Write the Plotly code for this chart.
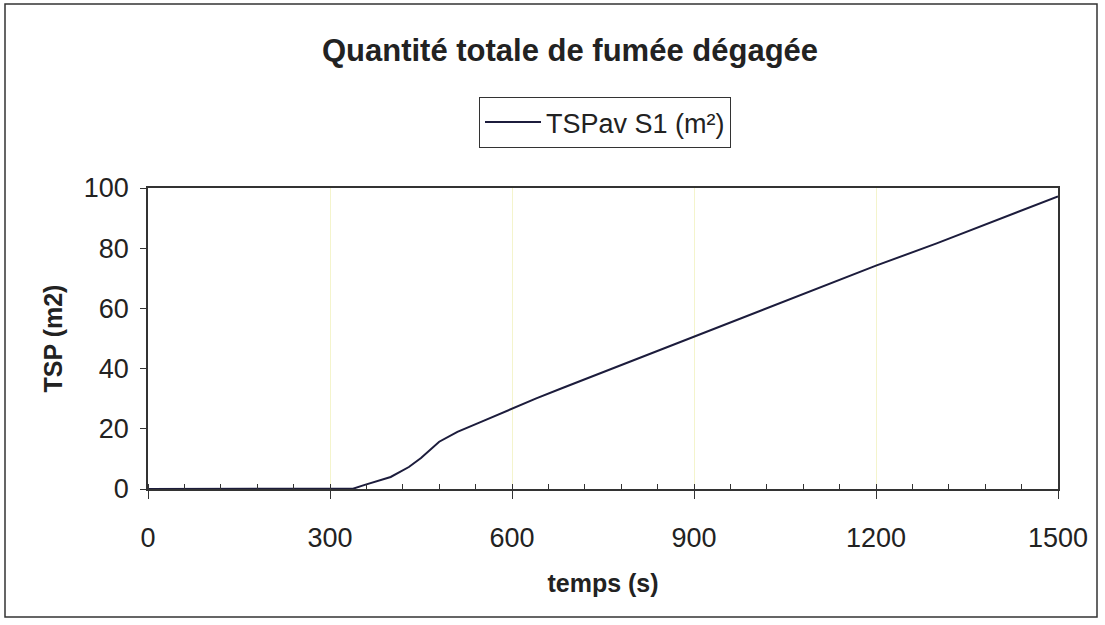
import plotly.graph_objects as go

# Data
temps = [0, 60, 120, 180, 240, 300, 320, 338, 356, 380, 400, 430, 450, 480,
         510, 550, 600, 640, 680, 750, 800, 900, 1000, 1100, 1200, 1300, 1400, 1500]
tsp = [0, 0, 0, 0, 0, 0, 0, 0.1, 1.3, 2.8, 4.0, 7.3, 10.3, 15.7,
       19.0, 22.4, 26.8, 30.1, 33.3, 38.8, 42.7, 50.6, 58.3, 66.2, 74.2, 81.6, 89.4, 97.2]
series_name = "TSPav S1 (m²)"
x_ticks = [0, 300, 600, 900, 1200, 1500]
y_ticks = [0, 20, 40, 60, 80, 100]

FONT = "Liberation Sans, Arial, sans-serif"
TXT = "#222222"

L, R, T, B = 148, 1058, 188, 489
PW, PH = R - L, B - T

fig = go.Figure()
fig.add_trace(go.Scatter(x=temps, y=tsp, mode="lines", name=series_name,
                         line=dict(color="#1c1c3c", width=2)))

fig.update_layout(
    width=1105, height=625,
    paper_bgcolor="white", plot_bgcolor="white",
    margin=dict(l=L, r=1105 - R, t=T, b=625 - B),
    font=dict(family=FONT, color=TXT),
    title=dict(text="<b>Quantité totale de fumée dégagée</b>",
               x=570 / 1105, xanchor="center", y=1 - 50 / 625, yanchor="middle",
               font=dict(size=31, color=TXT)),
    showlegend=True,
    legend=dict(x=(605 - L) / PW, xanchor="center", y=(B - 97) / PH, yanchor="top",
                bordercolor="#333333", borderwidth=1, bgcolor="white",
                font=dict(size=27, color=TXT), itemwidth=56),
    xaxis=dict(range=[0, 1500], tickvals=x_ticks, ticks="outside", ticklen=8,
               tickcolor="#333", tickwidth=1,
               showline=True, linecolor="#333", linewidth=1.5, mirror=True,
               showgrid=True, gridcolor="#f4f4cc", gridwidth=1,
               zeroline=False, tickfont=dict(size=27, color=TXT),
               ticklabelstandoff=16,
               minor=dict(dtick=60, tick0=0, ticks="inside", ticklen=5, tickcolor="#333", showgrid=False),
               title=dict(text="<b>temps (s)</b>", font=dict(size=25, color=TXT), standoff=22)),
    yaxis=dict(range=[0, 100], tickvals=y_ticks, ticks="outside", ticklen=6,
               tickcolor="#333", tickwidth=1,
               showline=True, linecolor="#333", linewidth=1.5, mirror=True,
               showgrid=False, zeroline=False,
               tickfont=dict(size=27, color=TXT), ticklabelstandoff=6,
               title=dict(text="<b>TSP (m2)</b>", font=dict(size=25, color=TXT), standoff=14)),
)

# outer chart frame
fig.add_shape(type="rect", xref="paper", yref="paper",
              x0=(5 - L) / PW, x1=(1097 - L) / PW,
              y0=(B - 617) / PH, y1=(B - 4) / PH,
              line=dict(color="#333333", width=1.5), fillcolor="rgba(0,0,0,0)", layer="below")

fig.write_html("out.html", config={"displayModeBar": False},
               post_script="document.body.style.margin='0px';")
